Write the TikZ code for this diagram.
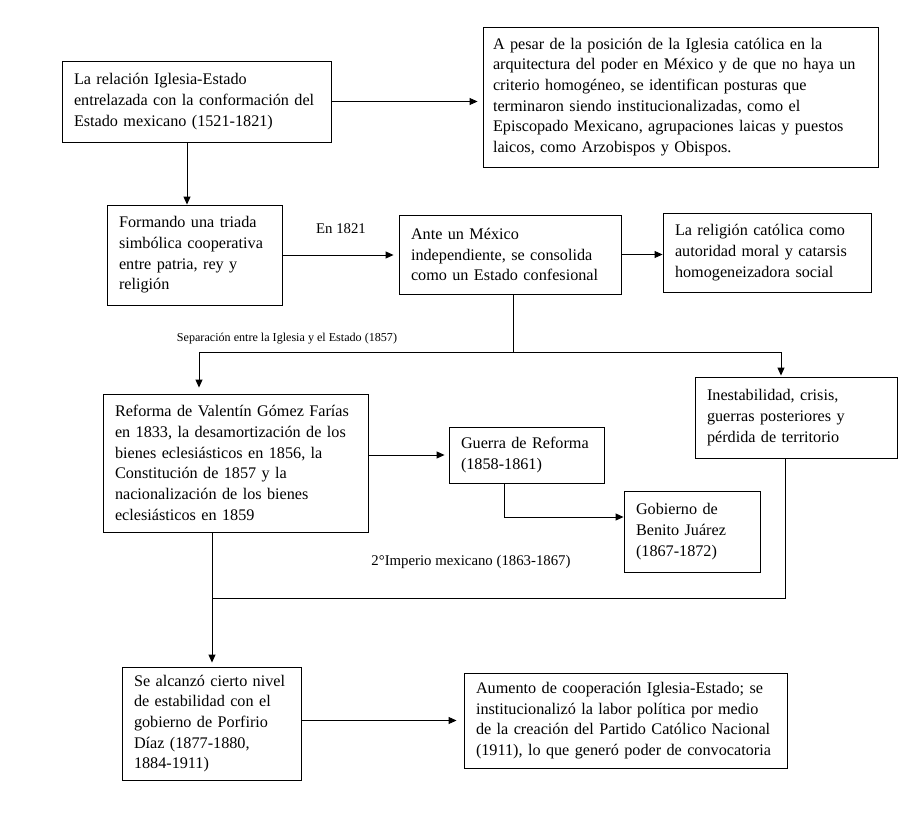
\documentclass[tikz,border=0pt]{standalone}
\usepackage{fontspec}
\setmainfont{Liberation Serif}
\usetikzlibrary{arrows.meta}
\begin{document}
\begin{tikzpicture}[x=1pt,y=-1pt]
\tikzset{
  box/.style={draw, line width=0.9pt, inner xsep=12pt, inner ysep=0pt, align=left,
    font=\fontsize{16.2}{20.7}\selectfont, anchor=center},
  arr/.style={-{Triangle[length=8pt,width=7pt]}, line width=0.9pt},
  ln/.style={line width=0.9pt},
  lbl/.style={font=\fontsize{14.8}{16}\selectfont, inner sep=0pt},
  lblsmall/.style={font=\fontsize{12.1}{14}\selectfont, inner sep=0pt},
}
\useasboundingbox[fill=white] (0,0) rectangle (924,828);

\node[box, minimum width=269pt, minimum height=81pt, text width=245pt] (A) at (196.5,101.5)
 {La relación Iglesia-Estado\\ entrelazada con la conformación del\\ Estado mexicano (1521-1821)};
\node[box, inner xsep=10pt, minimum width=395pt, minimum height=140pt, text width=375pt] (B) at (680.5,97)
 {A pesar de la posición de la Iglesia católica en la\\ arquitectura del poder en México y de que no haya un\\ criterio homogéneo, se identifican posturas que\\ terminaron siendo institucionalizadas, como el\\ Episcopado Mexicano, agrupaciones laicas y puestos\\ laicos, como Arzobispos y Obispos.};
\node[box, minimum width=175pt, minimum height=100pt, text width=151pt] (C) at (194.5,255)
 {Formando una triada\\ simbólica cooperativa\\ entre patria, rey y\\ religión};
\node[box, minimum width=222pt, minimum height=79pt, text width=198pt] (D) at (510,254.5)
 {Ante un México\\ independiente, se consolida\\ como un Estado confesional};
\node[box, minimum width=208pt, minimum height=79pt, text width=184pt] (E) at (767,252.5)
 {La religión católica como\\ autoridad moral y catarsis\\ homogeneizadora social};
\node[box, minimum width=202pt, minimum height=81pt, text width=178pt] (G) at (796,417.5)
 {Inestabilidad, crisis,\\ guerras posteriores y\\ pérdida de territorio};
\node[box, minimum width=265pt, minimum height=138pt, text width=241pt] (F) at (235.5,463)
 {Reforma de Valentín Gómez Farías\\ en 1833, la desamortización de los\\ bienes eclesiásticos en 1856, la\\ Constitución de 1857 y la\\ nacionalización de los bienes\\ eclesiásticos en 1859};
\node[box, minimum width=155pt, minimum height=56pt, text width=131pt] (H) at (526.5,455)
 {Guerra de Reforma\\ (1858-1861)};
\node[box, minimum width=136pt, minimum height=81pt, text width=112pt] (I) at (692,531.5)
 {Gobierno de\\ Benito Juárez\\ (1867-1872)};
\node[box, minimum width=179pt, minimum height=113pt, text width=155pt] (J) at (211.5,723.5)
 {Se alcanzó cierto nivel\\ de estabilidad con el\\ gobierno de Porfirio\\ Díaz (1877-1880,\\ 1884-1911)};
\node[box, minimum width=323pt, minimum height=95pt, text width=299pt] (K) at (625.5,720.5)
 {Aumento de cooperación Iglesia-Estado; se\\ institucionalizó la labor política por medio\\ de la creación del Partido Católico Nacional\\ (1911), lo que generó poder de convocatoria};

\node[lbl] (l1821) at (341,229) {En 1821};
\node[lblsmall] (lsep) at (287,339) {Separación entre la Iglesia y el Estado (1857)};
\node[lbl] (limp) at (471,562) {2°Imperio mexicano (1863-1867)};

\coordinate (splitL) at (199,352);
\coordinate (splitR) at (781,352);
\coordinate (joinR) at (785,598);
\coordinate (joinL) at (212,598);
\coordinate (hturn) at (504,517);

\draw[arr, shorten >=5pt] (A.east) -- (A.east -| B.west);
\draw[arr] ([xshift=-9.5pt]A.south) -- ([xshift=-7.5pt]C.north);
\draw[arr, shorten >=5pt] (C.east) -- (C.east -| D.west);
\draw[arr] (D.east) -- (D.east -| E.west);
\draw[ln] ([xshift=3pt]D.south) -- ([xshift=3pt]D.south |- splitL);
\draw[ln] (splitL) -- (splitR);
\draw[arr, shorten >=6pt] (splitL) -- (splitL |- F.north);
\draw[arr, shorten >=1pt] (splitR) -- (splitR |- G.north);
\draw[arr, shorten >=4pt] (F.east |- H.west) -- (H.west);
\draw[arr] ([xshift=-22.5pt]H.south) |- (hturn -| I.west);
\draw[ln] ([xshift=-11pt]G.south) -- (joinR) -- (joinL);
\draw[arr, shorten >=4pt] ([xshift=-23.5pt]F.south) -- ([xshift=-23.5pt]F.south |- J.north);
\draw[arr, shorten >=7pt] (J.east |- K.west) -- (K.west);
\end{tikzpicture}
\end{document}
